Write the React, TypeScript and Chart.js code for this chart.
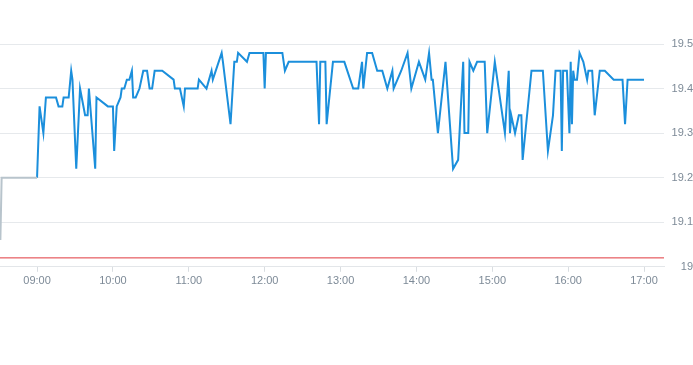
import React, { useEffect, useRef } from "react";
import { Chart, registerables } from "chart.js";

Chart.register(...registerables);

const preTimes = ["08:31", "08:32", "09:00"];
const preValues = [19.06, 19.2, 19.2];

const times = [
  "09:00","09:02","09:05","09:07","09:15","09:17","09:20","09:21","09:25","09:27","09:28","09:31","09:34","09:38","09:40","09:41","09:46","09:47","09:56",
  "10:00","10:01","10:03","10:06","10:07","10:09","10:11","10:13","10:15","10:16","10:18","10:21","10:24","10:27","10:29","10:31","10:33","10:39","10:48","10:49","10:53","10:56","10:57",
  "11:07","11:08","11:14","11:18","11:19","11:26","11:27","11:33","11:36","11:38","11:39","11:46","11:48","11:59",
  "12:00","12:01","12:14","12:16","12:19","12:41","12:43","12:44","12:48","12:49","12:54",
  "13:03","13:10","13:14","13:17","13:18","13:21","13:25","13:29","13:33","13:37","13:41","13:42","13:48","13:53","13:56",
  "14:02","14:07","14:10","14:12","14:13","14:17","14:23","14:29","14:33","14:37","14:38","14:41","14:42","14:45","14:48","14:54","14:56",
  "15:02","15:10","15:13","15:14","15:15","15:18","15:21","15:23","15:24","15:31","15:40","15:44","15:48","15:50","15:54","15:55","15:56","15:59",
  "16:01","16:02","16:03","16:04","16:05","16:07","16:09","16:12","16:15","16:16","16:19","16:21","16:25","16:29","16:36","16:43","16:45","16:47",
  "17:00"
];
const values = [
  19.20,19.36,19.30,19.38,19.38,19.36,19.36,19.38,19.38,19.44,19.42,19.22,19.40,19.34,19.34,19.40,19.22,19.38,19.36,
  19.36,19.26,19.36,19.38,19.40,19.40,19.42,19.42,19.44,19.38,19.38,19.40,19.44,19.44,19.40,19.40,19.44,19.44,19.42,19.40,19.40,19.36,19.40,
  19.40,19.42,19.40,19.44,19.42,19.48,19.46,19.32,19.46,19.46,19.48,19.46,19.48,19.48,
  19.40,19.48,19.48,19.44,19.46,19.46,19.32,19.46,19.46,19.32,19.46,
  19.46,19.40,19.40,19.46,19.40,19.48,19.48,19.44,19.44,19.40,19.44,19.40,19.44,19.48,19.40,
  19.46,19.42,19.48,19.42,19.42,19.30,19.46,19.22,19.24,19.46,19.30,19.30,19.46,19.44,19.46,19.46,19.30,
  19.46,19.30,19.44,19.30,19.34,19.30,19.34,19.34,19.24,19.44,19.44,19.26,19.34,19.44,19.44,19.26,19.44,19.44,
  19.30,19.46,19.32,19.44,19.42,19.42,19.48,19.46,19.42,19.44,19.44,19.34,19.44,19.44,19.42,19.42,19.32,19.42,
  19.42
];

const refValue = 19.02;
const hourLabels = ["09:00","10:00","11:00","12:00","13:00","14:00","15:00","16:00","17:00"];
const yTicks = [19, 19.1, 19.2, 19.3, 19.4, 19.5];

const toMin = (t: string) => {
  const [h, m] = t.split(":").map(Number);
  return h * 60 + m;
};
const fromMin = (v: number) => {
  const h = Math.floor(v / 60);
  const m = Math.round(v - h * 60);
  return String(h).padStart(2, "0") + ":" + String(m).padStart(2, "0");
};

const X_MIN = 510.7;
const X_MAX = 1035.8;

export default function App() {
  const ref = useRef<HTMLCanvasElement>(null);
  useEffect(() => {
    if (!ref.current) return;
    const font = { family: "'Liberation Sans', Arial, sans-serif", size: 11 };
    const chart = new Chart(ref.current, {
      type: "line",
      data: {
        datasets: [
          {
            data: [
              { x: X_MIN, y: refValue },
              { x: X_MAX, y: refValue },
            ],
            borderColor: "#e0393e",
            borderWidth: 1,
            pointRadius: 0,
          },
          {
            data: preTimes.map((t, i) => ({ x: toMin(t), y: preValues[i] })),
            borderColor: "#b8c4cc",
            borderWidth: 2,
            pointRadius: 0,
          },
          {
            data: times.map((t, i) => ({ x: toMin(t), y: values[i] })),
            borderColor: "#1b8fdc",
            borderWidth: 2,
            pointRadius: 0,
          },
        ],
      },
      options: {
        animation: false,
        responsive: true,
        maintainAspectRatio: false,
        layout: { padding: { top: 44, bottom: 74, left: 0, right: 0 } },
        plugins: { legend: { display: false }, tooltip: { enabled: false } },
        scales: {
          x: {
            type: "linear",
            min: X_MIN,
            max: X_MAX,
            afterBuildTicks: (axis: any) => {
              axis.ticks = hourLabels.map((h) => ({ value: toMin(h) }));
            },
            grid: {
              drawOnChartArea: false,
              drawTicks: true,
              tickLength: 5,
              color: "#d9dde1",
            },
            border: { display: true, color: "#e3e6e9" },
            ticks: {
              color: "#7d8a97",
              font,
              maxRotation: 0,
              padding: 3,
              autoSkip: false,
              callback: (v: any) => fromMin(Number(v)),
            },
          },
          y: {
            position: "right",
            min: 19,
            max: 19.5,
            afterBuildTicks: (axis: any) => {
              axis.ticks = yTicks.map((v) => ({ value: v }));
            },
            afterFit: (axis: any) => {
              axis.width = 29;
            },
            grid: { color: "#e6e9ec", drawTicks: false },
            border: { display: false },
            ticks: {
              color: "#7d8a97",
              font,
              padding: 8,
              crossAlign: "far",
              callback: (v: any) => String(Math.round(Number(v) * 10) / 10),
            },
          },
        },
      },
    });
    return () => chart.destroy();
  }, []);
  return (
    <div style={{ position: "fixed", left: 0, top: 0, width: 693, height: 365, background: "#fff" }}>
      <canvas ref={ref} />
    </div>
  );
}
